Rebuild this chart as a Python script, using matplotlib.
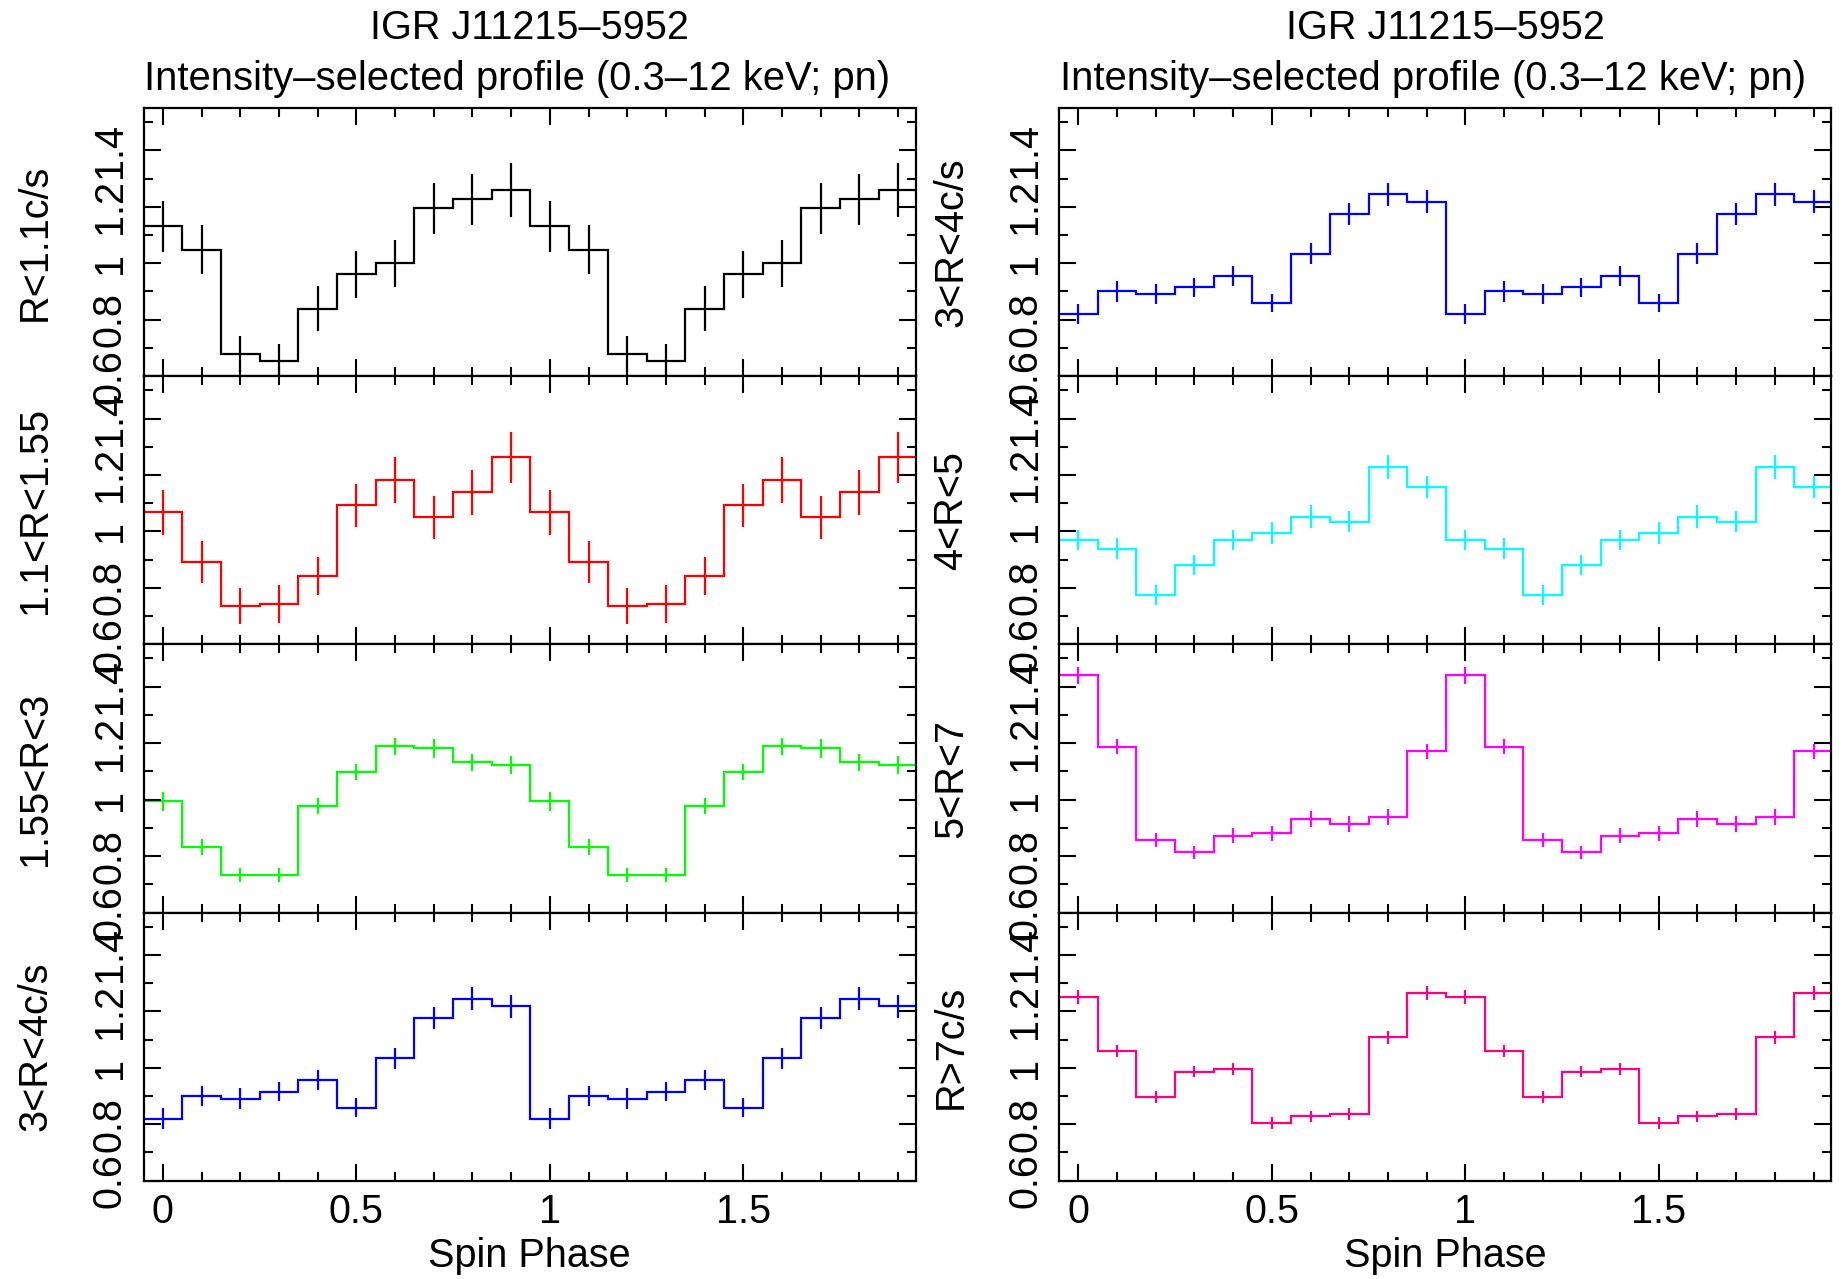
import matplotlib
matplotlib.use("Agg")
import matplotlib.pyplot as plt
from matplotlib.ticker import FixedLocator, FixedFormatter, MultipleLocator
import numpy as np

plt.rcParams['font.family'] = ['Liberation Sans', 'DejaVu Sans']

# ---------------- data ----------------
phase = [0.0, 0.1, 0.2, 0.3, 0.4, 0.5, 0.6, 0.7, 0.8, 0.9,
         1.0, 1.1, 1.2, 1.3, 1.4, 1.5, 1.6, 1.7, 1.8, 1.9]
bin_width = 0.1

r_lt_1p1 = [1.131, 1.048, 0.679, 0.652, 0.839, 0.961, 1.000, 1.194, 1.226, 1.260,
            1.131, 1.048, 0.679, 0.652, 0.839, 0.961, 1.000, 1.194, 1.226, 1.260]
r_lt_1p1_err = [0.090, 0.086, 0.065, 0.062, 0.080, 0.083, 0.083, 0.092, 0.091, 0.095,
                0.090, 0.086, 0.065, 0.062, 0.080, 0.083, 0.083, 0.092, 0.091, 0.095]

r_1p1_1p55 = [1.068, 0.892, 0.737, 0.744, 0.842, 1.092, 1.181, 1.050, 1.139, 1.262,
              1.068, 0.892, 0.737, 0.744, 0.842, 1.092, 1.181, 1.050, 1.139, 1.262]
r_1p1_1p55_err = [0.080, 0.073, 0.064, 0.068, 0.068, 0.076, 0.081, 0.076, 0.080, 0.089,
                  0.080, 0.073, 0.064, 0.068, 0.068, 0.076, 0.081, 0.076, 0.080, 0.089]

r_1p55_3 = [0.994, 0.832, 0.733, 0.733, 0.978, 1.098, 1.189, 1.182, 1.132, 1.123,
            0.994, 0.832, 0.733, 0.733, 0.978, 1.098, 1.189, 1.182, 1.132, 1.123]
r_1p55_3_err = [0.033, 0.027, 0.026, 0.026, 0.028, 0.028, 0.031, 0.033, 0.031, 0.031,
                0.033, 0.027, 0.026, 0.026, 0.028, 0.028, 0.031, 0.033, 0.031, 0.031]

r_3_4 = [0.820, 0.900, 0.891, 0.915, 0.956, 0.859, 1.034, 1.176, 1.244, 1.218,
         0.820, 0.900, 0.891, 0.915, 0.956, 0.859, 1.034, 1.176, 1.244, 1.218]
r_3_4_err = [0.036, 0.036, 0.036, 0.034, 0.035, 0.033, 0.037, 0.039, 0.041, 0.041,
             0.036, 0.036, 0.036, 0.034, 0.035, 0.033, 0.037, 0.039, 0.041, 0.041]

r_4_5 = [0.970, 0.939, 0.776, 0.881, 0.970, 0.995, 1.052, 1.035, 1.229, 1.157,
         0.970, 0.939, 0.776, 0.881, 0.970, 0.995, 1.052, 1.035, 1.229, 1.157]
r_4_5_err = [0.036, 0.036, 0.035, 0.036, 0.036, 0.040, 0.040, 0.036, 0.042, 0.040,
             0.036, 0.036, 0.035, 0.036, 0.036, 0.040, 0.040, 0.036, 0.042, 0.040]

r_5_7 = [1.440, 1.188, 0.856, 0.814, 0.872, 0.880, 0.931, 0.913, 0.938, 1.171,
         1.440, 1.188, 0.856, 0.814, 0.872, 0.880, 0.931, 0.913, 0.938, 1.171]
r_5_7_err = [0.029, 0.028, 0.025, 0.023, 0.027, 0.026, 0.028, 0.029, 0.027, 0.027,
             0.029, 0.028, 0.025, 0.023, 0.027, 0.026, 0.028, 0.029, 0.027, 0.027]

r_gt_7 = [1.251, 1.059, 0.898, 0.986, 0.996, 0.804, 0.828, 0.836, 1.108, 1.265,
          1.251, 1.059, 0.898, 0.986, 0.996, 0.804, 0.828, 0.836, 1.108, 1.265]
r_gt_7_err = [0.025, 0.022, 0.021, 0.020, 0.020, 0.020, 0.020, 0.021, 0.024, 0.025,
              0.025, 0.022, 0.021, 0.020, 0.020, 0.020, 0.020, 0.021, 0.024, 0.025]

left_labels = ["R<1.1c/s", "1.1<R<1.55", "1.55<R<3", "3<R<4c/s"]
right_labels = ["3<R<4c/s", "4<R<5", "5<R<7", "R>7c/s"]
left_series = [(r_lt_1p1, r_lt_1p1_err), (r_1p1_1p55, r_1p1_1p55_err),
               (r_1p55_3, r_1p55_3_err), (r_3_4, r_3_4_err)]
right_series = [(r_3_4, r_3_4_err), (r_4_5, r_4_5_err),
                (r_5_7, r_5_7_err), (r_gt_7, r_gt_7_err)]
left_colors = ["#000000", "#ff0000", "#00ff00", "#0000ff"]
right_colors = ["#0000ff", "#00ffff", "#ff00ff", "#ff0080"]

title1 = "IGR J11215\u20135952"
title2 = "Intensity\u2013selected profile (0.3\u201312 keV; pn)"
xlabel = "Spin Phase"

ytick_vals = [0.6, 0.8, 1.0, 1.2, 1.4]
ytick_text = ["0.6", "0.8", "1", "1.2", "1.4"]
xtick_vals = [0.0, 0.5, 1.0, 1.5]
xtick_text = ["0", "0.5", "1", "1.5"]

# ---------------- layout ----------------
W, H = 1845, 1279
fig = plt.figure(figsize=(W / 100, H / 100), dpi=100)

FS = 28.5
col_x = [143.5, 1059.0]
col_w = 772.0
top_px, bot_px = 108.0, 1180.7
panel_h = (bot_px - top_px) / 4.0
ylabel_x_px = [35.0, 951.0]

def px2fig_x(x):
    return x / W

def px2fig_y(y):
    return 1 - y / H

for c, (labels, series, colors) in enumerate([(left_labels, left_series, left_colors),
                                               (right_labels, right_series, right_colors)]):
    x0 = col_x[c]
    for r in range(4):
        ytop = top_px + r * panel_h
        ax = fig.add_axes([px2fig_x(x0), px2fig_y(ytop + panel_h), col_w / W, panel_h / H])
        vals, errs = series[r]
        ph = np.array(phase)
        edges = np.concatenate([ph - bin_width / 2, [ph[-1] + bin_width / 2]])
        ax.stairs(vals, edges, baseline=None, color=colors[r], lw=1.6)
        ax.errorbar(ph, vals, yerr=errs, fmt='none', ecolor=colors[r], elinewidth=1.6, capsize=0)
        ax.set_xlim(-0.05, 1.945)
        ax.set_ylim(0.6, 1.55)
        ax.xaxis.set_major_locator(FixedLocator(xtick_vals))
        ax.xaxis.set_minor_locator(MultipleLocator(0.1))
        ax.yaxis.set_major_locator(FixedLocator(ytick_vals))
        ax.yaxis.set_major_formatter(FixedFormatter(ytick_text))
        ax.yaxis.set_minor_locator(MultipleLocator(0.1))
        ax.tick_params(which='both', direction='in', top=True, right=True, width=1.5,
                       labelsize=FS)
        ax.tick_params(which='major', length=12.2)
        ax.tick_params(which='minor', length=6.8)
        ax.tick_params(axis='y', labelrotation=90, pad=10.8)
        for lab in ax.get_yticklabels():
            lab.set_va('center')
        if r == 3:
            ax.xaxis.set_major_formatter(FixedFormatter(xtick_text))
            ax.tick_params(axis='x', pad=9)
        else:
            ax.tick_params(axis='x', labelbottom=False)
        for s in ax.spines.values():
            s.set_linewidth(1.6)
        ax.text((ylabel_x_px[c] - x0) / col_w, 0.5, labels[r], rotation=90,
                transform=ax.transAxes, ha='center', va='center', fontsize=FS)
    cx_px = x0 + col_w / 2
    fig.text(px2fig_x(cx_px), px2fig_y(28), title1, ha='center', va='center', fontsize=FS)
    fig.text(px2fig_x(cx_px - 12), px2fig_y(79), title2, ha='center', va='center',
             fontsize=FS * 1.012)
    fig.text(px2fig_x(cx_px), px2fig_y(1256), xlabel, ha='center', va='center', fontsize=FS)

fig.savefig("out.png", dpi=100)
